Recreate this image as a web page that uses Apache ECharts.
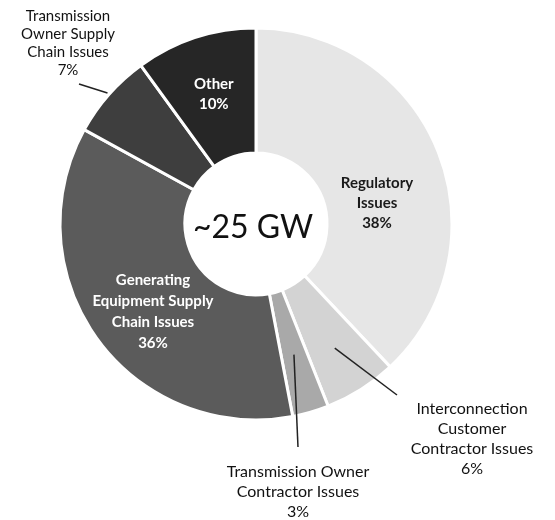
<!DOCTYPE html>
<html>
<head>
<meta charset="utf-8">
<script src="https://cdn.jsdelivr.net/npm/echarts@6/dist/echarts.min.js"></script>
<style>
html,body{margin:0;padding:0;background:#fff;}
#c{width:555px;height:520px;}
</style>
</head>
<body>
<div id="c"></div>
<script>
// Data
var categories = [
  'Regulatory\nIssues',
  'Interconnection\nCustomer\nContractor Issues',
  'Transmission Owner\nContractor Issues',
  'Generating\nEquipment Supply\nChain Issues',
  'Transmission\nOwner Supply\nChain Issues',
  'Other'
];
var shares = [38, 6, 3, 36, 7, 10];
var centerText = '~25 GW';

// Styles / layout (not data)
var CX = 256, CY = 224, R_IN = 71, R_OUT = 196;
var sliceColors = ['#e6e6e6', '#d3d3d3', '#a9a9a9', '#5b5b5b', '#3e3e3e', '#262626'];
// at: label centre; lead: radius where the leader meets the slice, and leader end offset from label centre
var labelStyle = [
  {pos: 'inside', color: '#1a1a1a', bold: true, size: 15, lh: 20, at: [377, 203]},
  {pos: 'inside', color: '#111', bold: false, size: 16, lh: 20, at: [472, 439], lead: {r: 147, dx: -75, dy: -44}},
  {pos: 'inside', color: '#111', bold: false, size: 16, lh: 20, at: [298, 492], lead: {r: 136, dx: 0, dy: -45}},
  {pos: 'inside', color: '#ffffff', bold: true, size: 15, lh: 21, at: [153, 312]},
  {pos: 'inside', color: '#111', bold: false, size: 15, lh: 18, at: [68, 43], lead: {r: 198, dx: 11, dy: 41}},
  {pos: 'inside', color: '#ffffff', bold: true, size: 15, lh: 20, at: null}
];

var total = shares.reduce(function (a, b) { return a + b; }, 0);
function midAngle(i) {
  var before = 0;
  for (var k = 0; k < i; k++) before += shares[k];
  return (before + shares[i] / 2) / total * 2 * Math.PI; // clockwise from top
}

var chart = echarts.init(document.getElementById('c'), null, {renderer: 'canvas'});

var data = categories.map(function (name, i) {
  var ls = labelStyle[i];
  return {
    name: name,
    value: shares[i],
    itemStyle: {color: sliceColors[i]},
    label: {
      position: ls.pos,
      color: ls.color,
      fontWeight: ls.bold ? 'bold' : 'normal',
      fontSize: ls.size,
      lineHeight: ls.lh
    }
  };
});

// leader lines, from each slice's mid-angle to its label
var leaders = [];
labelStyle.forEach(function (ls, i) {
  if (!ls.lead) return;
  var a = midAngle(i);
  var sx = CX + Math.sin(a) * ls.lead.r;
  var sy = CY - Math.cos(a) * ls.lead.r;
  leaders.push({
    type: 'line',
    z: 100,
    shape: {x1: sx, y1: sy, x2: ls.at[0] + ls.lead.dx, y2: ls.at[1] + ls.lead.dy},
    style: {stroke: '#222', lineWidth: 1.5}
  });
});

chart.setOption({
  backgroundColor: '#ffffff',
  animation: false,
  graphic: [{
    type: 'text',
    left: 193,
    top: 212,
    style: {
      text: centerText,
      fontFamily: 'Lato',
      fontSize: 32,
      fill: '#111'
    }
  }].concat(leaders),
  series: [{
    type: 'pie',
    center: [CX, CY],
    radius: [R_IN, R_OUT],
    startAngle: 90,
    clockwise: true,
    avoidLabelOverlap: false,
    itemStyle: {borderColor: '#ffffff', borderWidth: 3},
    label: {
      show: true,
      fontFamily: 'Lato',
      formatter: function (p) { return p.name + '\n' + p.value + '%'; },
      align: 'center'
    },
    labelLine: {show: false},
    labelLayout: function (params) {
      var ls = labelStyle[params.dataIndex];
      if (!ls.at) return {};
      return {x: ls.at[0], y: ls.at[1], align: 'center', verticalAlign: 'middle'};
    },
    data: data
  }]
});
</script>
</body>
</html>
